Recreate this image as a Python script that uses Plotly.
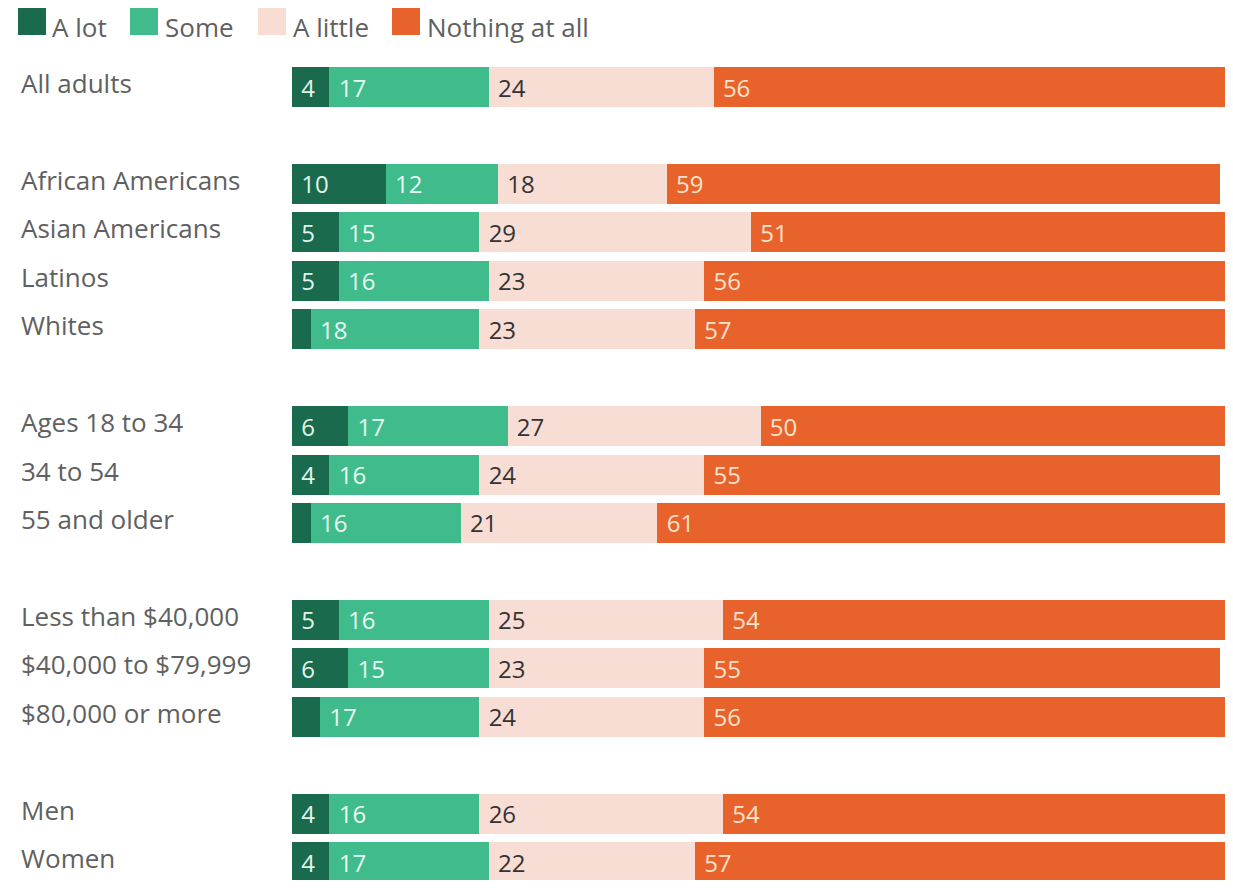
import plotly.graph_objects as go

categories = ["All adults",
              "African Americans", "Asian Americans", "Latinos", "Whites",
              "Ages 18 to 34", "34 to 54", "55 and older",
              "Less than $40,000", "$40,000 to $79,999", "$80,000 or more",
              "Men", "Women"]
row_pos = [0, 2, 3, 4, 5, 7, 8, 9, 11, 12, 13, 15, 16]

a_lot = [4, 10, 5, 5, 2, 6, 4, 2, 5, 6, 3, 4, 4]
some = [17, 12, 15, 16, 18, 17, 16, 16, 16, 15, 17, 16, 17]
a_little = [24, 18, 29, 23, 23, 27, 24, 21, 25, 23, 24, 26, 22]
nothing = [56, 59, 51, 56, 57, 50, 55, 61, 54, 55, 56, 54, 57]

series_names = ["A lot", "Some", "A little", "Nothing at all"]
series_vals = [a_lot, some, a_little, nothing]
colors = ["#1a6a4d", "#40bc8c", "#f8ddd5", "#e8632b"]
text_colors = ["#e2f4ea", "#e8faf1", "#333333", "#fde2cc"]

FONT = "Open Sans"
W, H = 1217, 872
L = 284
PW = W - L
SCALE = 9.37      # px per percentage point
ROW = 48.44       # px per row unit
Y0 = 79           # px from top of figure to first row centre


def px(x):
    return (x - L) / PW


def py(y):
    return 1 - y / H


fig = go.Figure()
for name, vals, color, tcolor in zip(series_names, series_vals, colors, text_colors):
    labels = ["\u00a0" + str(v) if v >= 4 else "" for v in vals]
    fig.add_trace(go.Bar(
        name=name, x=vals, y=row_pos, orientation="h",
        marker=dict(color=color, line=dict(width=0)),
        width=40 / ROW,
        text=labels, textposition="inside", insidetextanchor="start",
        textfont=dict(size=24, color=tcolor, family=FONT),
        hoverinfo="skip", showlegend=False,
    ))

for cat, y in zip(categories, row_pos):
    fig.add_annotation(x=px(12), xref="paper", y=y, yref="y", text=cat,
                       showarrow=False, xanchor="left", yanchor="middle",
                       yshift=4, borderpad=0,
                       font=dict(size=26, color="#606060", family=FONT))

# legend (swatches + labels)
sw_x = [10, 122, 250, 384]
tx_x = [43, 156, 284, 418]
for name, color, sx, tx in zip(series_names, colors, sw_x, tx_x):
    fig.add_shape(type="rect", xref="paper", yref="paper",
                  x0=px(sx), x1=px(sx + 28), y0=py(0), y1=py(27),
                  fillcolor=color, line=dict(width=0))
    fig.add_annotation(x=px(tx), xref="paper", y=py(0), yref="paper", text=name,
                       showarrow=False, xanchor="left", yanchor="top",
                       borderpad=0,
                       font=dict(size=26, color="#606060", family=FONT))

fig.update_layout(
    width=W, height=H,
    barmode="stack",
    margin=dict(l=L, r=0, t=0, b=0),
    plot_bgcolor="white", paper_bgcolor="white",
    xaxis=dict(range=[0, PW / SCALE], visible=False),
    yaxis=dict(range=[(H - Y0) / ROW, -Y0 / ROW], visible=False),
    showlegend=False,
    uniformtext=dict(minsize=20, mode="hide"),
)

fig.write_html("out.html")
